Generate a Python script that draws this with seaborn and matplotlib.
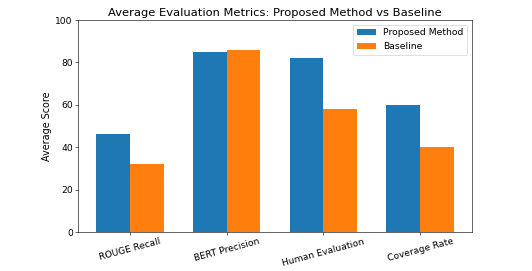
import matplotlib
matplotlib.use("Agg")
import matplotlib.pyplot as plt
import seaborn as sns
import pandas as pd

metrics = ["ROUGE Recall", "BERT Precision", "Human Evaluation", "Coverage Rate"]
proposed = [46, 85, 82, 60]
baseline = [32, 86, 58, 40]
series_names = ["Proposed Method", "Baseline"]

df = pd.DataFrame({
    "Metric": metrics * 2,
    "Score": proposed + baseline,
    "Method": [series_names[0]] * len(metrics) + [series_names[1]] * len(metrics),
})

plt.rcParams["font.family"] = ["DejaVu Sans"]
fig = plt.figure(figsize=(10, 271 / 53.2), dpi=53.2)
ax = fig.add_axes([78 / 532, 1 - 232 / 271, (472 - 78) / 532, (232 - 20) / 271])
sns.barplot(data=df, x="Metric", y="Score", hue="Method", order=metrics,
            hue_order=series_names, palette=["#1f77b4", "#ff7f0e"],
            width=0.7, saturation=1, ax=ax, errorbar=None)
ax.set_xlim(-0.535, 3.535)
ax.set_ylim(0, 100)
ax.set_xlabel("")
ax.set_ylabel("Average Score", fontsize=13)
ax.set_title("Average Evaluation Metrics: Proposed Method vs Baseline", fontsize=15.6)
ax.tick_params(axis="both", labelsize=12.4)
plt.setp(ax.get_xticklabels(), rotation=15)
ax.legend(loc="upper right", fontsize=12.6, title=None)
fig.savefig("out.png", dpi=53.2)
